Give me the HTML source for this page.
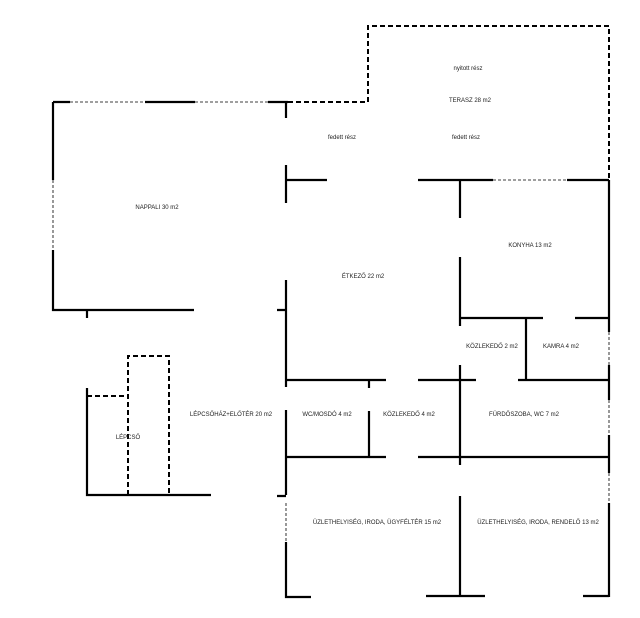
<!DOCTYPE html>
<html><head><meta charset="utf-8"><style>html,body{margin:0;padding:0;background:#fff}svg{display:block}</style></head><body>
<svg width="640" height="618" viewBox="0 0 640 618" xmlns="http://www.w3.org/2000/svg">
<g stroke="#000" stroke-width="2.2" fill="none">
<!-- nappali -->
<path d="M53 102H70M145 102H195M268 102H288M53 102V180M53 250V310H194M87 310V318"/>
<path d="M286 102V118M286 165V203M286 180H327M286 280V318M277 310H286M286 300V387M286 410V495M277 496H286M286 542V597H311M426 596H485M583 596H609M460 496V596"/>
<path d="M418 180H493M567 180H609M460 180V218M460 257V326M460 318H543M575 318H609M526 318V380"/>
<path d="M609 180V332M609 365V400M609 435V473M609 503V597"/>
<path d="M286 380H386M418 380H476M518 380H609M369 380V388M369 411V457M286 457H386M418 457H609M460 365V465"/>
<path d="M87 388V495H211"/>
</g>
<g stroke="#000" stroke-width="0.8" fill="none" stroke-dasharray="3,2">
<path d="M70 102H145M195 102H268M53 180V250M493 180H567M609 332V365M609 400V435M609 473V503M286 503V542"/>
</g>
<g stroke="#000" stroke-width="2" fill="none" stroke-dasharray="5,3">
<path d="M288 102H368V26H609V180"/>
<path d="M87 396H128M128 495V356H169V495"/>
</g>
<g font-family="Liberation Sans, sans-serif" font-size="6" fill="#222" text-anchor="middle">
<text x="468" y="70">nyitott rész</text>
<text x="470" y="102">TERASZ 28 m2</text>
<text x="342" y="139">fedett rész</text>
<text x="466" y="139">fedett rész</text>
<text x="157" y="209">NAPPALI 30 m2</text>
<text x="363" y="278">ÉTKEZŐ 22 m2</text>
<text x="530" y="247">KONYHA 13 m2</text>
<text x="492" y="348">KÖZLEKEDŐ 2 m2</text>
<text x="561" y="348">KAMRA 4 m2</text>
<text x="327" y="416">WC/MOSDÓ 4 m2</text>
<text x="409" y="416">KÖZLEKEDŐ 4 m2</text>
<text x="524" y="416">FÜRDŐSZOBA, WC 7 m2</text>
<text x="231" y="416">LÉPCSŐHÁZ+ELŐTÉR 20 m2</text>
<text x="128" y="439">LÉPCSŐ</text>
<text x="377" y="524">ÜZLETHELYISÉG, IRODA, ÜGYFÉLTÉR 15 m2</text>
<text x="538" y="524">ÜZLETHELYISÉG, IRODA, RENDELŐ 13 m2</text>
</g>
</svg>
</body></html>
